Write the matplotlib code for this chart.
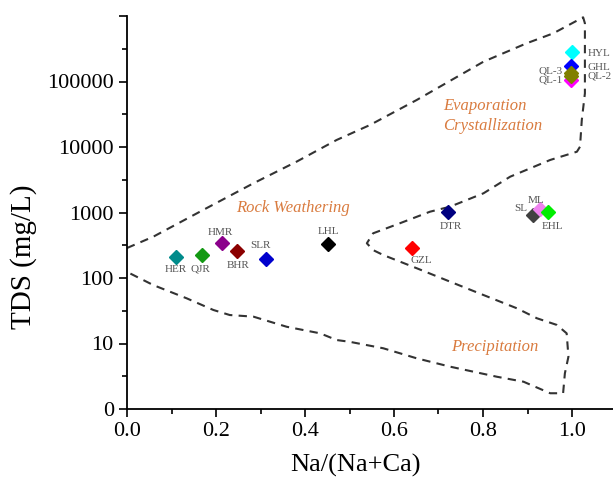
import numpy as np
import matplotlib.pyplot as plt
from matplotlib.ticker import FixedLocator, FixedFormatter

plt.rcParams['font.family'] = ['Liberation Serif', 'DejaVu Serif']

# Sample points: Na/(Na+Ca) ratio and TDS (mg/L)
sites = ['HER', 'QJR', 'HMR', 'BHR', 'SLR', 'LHL', 'GZL', 'DTR',
         'SL', 'ML', 'EHL', 'HYL', 'QL-1', 'GHL', 'QL-3', 'QL-2']
ratio = [0.110, 0.168, 0.213, 0.248, 0.312, 0.452, 0.640, 0.722,
         0.913, 0.928, 0.945, 1.001, 0.997, 0.997, 0.997, 0.997]
tds = [211, 224, 339, 261, 197, 330, 284, 1028,
       925, 1130, 1007, 285000, 105000, 172000, 135000, 123000]
colors = ['#008B8B', '#139913', '#8B008B', '#8B0000', '#0000CD', '#000000',
          '#FF0000', '#000080', '#404040', '#EE82EE', '#00EE00', '#00FFFF',
          '#FF00FF', '#0000FF', '#808000', '#808000']

# Gibbs boundary envelope (traced)
env_x = [0.0, 0.059, 0.171, 0.284, 0.381, 0.471, 0.546, 0.651, 0.801, 0.898,
         0.958, 1.025, 1.029, 1.029, 1.022, 1.018, 1.011, 0.951, 0.861, 0.801,
         0.726, 0.681, 0.613, 0.553, 0.539, 0.553, 0.576, 0.651, 0.726, 0.801,
         0.876, 0.921, 0.966, 0.988, 0.992, 0.984, 0.980, 0.951, 0.891, 0.831,
         0.726, 0.651, 0.576, 0.501, 0.471, 0.434, 0.359, 0.284, 0.231, 0.194,
         0.134, 0.059, 0.0]
env_y = [287, 427, 1092, 2790, 5970, 12790, 21670, 52200, 200500, 383000,
         544000, 955000, 774000, 66000, 25800, 10100, 8470, 6340, 3520, 1963,
         1227, 1029, 684, 481, 339, 267, 224, 141, 87.9, 55.0,
         34.5, 24.3, 19.2, 14.3, 6.3, 3.5, 1.74, 1.74, 2.61, 3.11,
         4.43, 5.94, 8.45, 10.6, 11.3, 14.3, 18.0, 25.7, 27.2, 32.5,
         49, 78, 124]

yticks = [1, 10, 100, 1000, 10000, 100000, 1000000]
ytick_labels = ['0', '10', '100', '1000', '10000', '100000', '']

# label offsets in pixels (dx, dy, ha)
offsets = {
    'HER': (0, -13, 'center'), 'QJR': (-1, -14, 'center'),
    'HMR': (-1, 11, 'center'), 'BHR': (1, -15, 'center'),
    'SLR': (-5, 13, 'center'), 'LHL': (0, 13, 'center'),
    'GZL': (10, -12, 'center'), 'DTR': (3, -15, 'center'),
    'SL': (-13, 6, 'center'), 'ML': (-4, 9, 'center'),
    'EHL': (5, -14, 'center'), 'HYL': (15, -2, 'left'),
    'GHL': (17, -1, 'left'), 'QL-2': (17, 0, 'left'),
    'QL-3': (-8, 2, 'right'), 'QL-1': (-8, 0, 'right'),
}

fig = plt.figure(figsize=(6.13, 4.79), dpi=100)
ax = fig.add_axes([127 / 613, 70 / 479, 486 / 613, 393 / 479])

ax.plot(env_x, env_y, ls=(0, (4, 3)), color='#333333', lw=1.5, zorder=1)

for s, x, y, c in zip(sites, ratio, tds, colors):
    ax.plot(x, y, marker='D', ms=7.5, color=c, ls='none', zorder=3)
    dx, dy, ha = offsets[s]
    ax.annotate(s, (x, y), xytext=(dx, dy), textcoords='offset pixels',
                ha=ha, va='center', fontsize=8, color='#555555')

orange = '#D97B3F'
ax.text(0.373, 1172, 'Rock Weathering', style='italic', fontsize=12,
        color=orange, ha='center', va='center')
ax.text(0.710, 29500, 'Evaporation\nCrystallization', style='italic',
        fontsize=12, color=orange, ha='left', va='center', linespacing=1.35)
ax.text(0.827, 8.75, 'Precipitation', style='italic', fontsize=12,
        color=orange, ha='center', va='center')

ax.set_yscale('log')
ax.set_ylim(1, 1e6)
ax.set_xlim(0, 486 / 445)
ax.yaxis.set_major_locator(FixedLocator(yticks))
ax.yaxis.set_major_formatter(FixedFormatter(ytick_labels))
ax.yaxis.set_minor_locator(FixedLocator([10 ** (k + 0.5) for k in range(6)]))
ax.yaxis.set_minor_formatter(FixedFormatter([]))
ax.set_xticks([0.0, 0.2, 0.4, 0.6, 0.8, 1.0])
ax.set_xticklabels(['0.0', '0.2', '0.4', '0.6', '0.8', '1.0'])
ax.set_xticks([0.1, 0.3, 0.5, 0.7, 0.9], minor=True)

for sp in ['top', 'right']:
    ax.spines[sp].set_visible(False)
for sp in ['left', 'bottom']:
    ax.spines[sp].set_linewidth(1.3)
ax.tick_params(which='major', length=6, width=1.2, labelsize=16, direction='out')
ax.tick_params(which='minor', length=3.5, width=1.2, direction='out')

ax.set_xlabel('Na/(Na+Ca)', fontsize=19)
ax.set_ylabel('TDS (mg/L)', fontsize=21)
ax.xaxis.set_label_coords(0.471, -0.115)
ax.yaxis.set_label_coords(-0.185, 0.387)

fig.savefig('out.png', dpi=100)
